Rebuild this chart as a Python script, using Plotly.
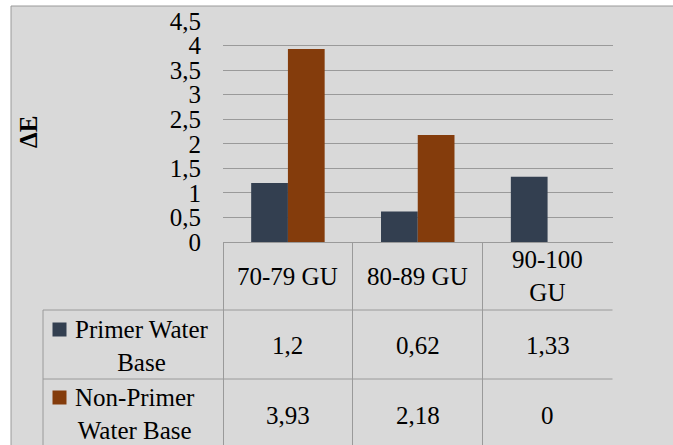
import plotly.graph_objects as go

categories = ["70-79 GU", "80-89 GU", "90-100 GU"]
category_labels = ["70-79 GU", "80-89 GU", "90-100<br>GU"]
primer_values = [1.2, 0.62, 1.33]
non_primer_values = [3.93, 2.18, 0.0]
series_names = ["Primer Water<br>Base", "Non-Primer<br>Water Base"]
series_colors = ["#333f50", "#843c0c"]
y_ticks = [0, 0.5, 1, 1.5, 2, 2.5, 3, 3.5, 4, 4.5]

W, H = 673, 445
FONT = "Liberation Serif"
GRAY = "#9a9a9a"

def px(x):
    return x / W

def py(y):
    return 1 - y / H

def fmt(v):
    s = f"{v:g}"
    return s.replace(".", ",")

fig = go.Figure()
for name, vals, col in zip(series_names, [primer_values, non_primer_values], series_colors):
    fig.add_trace(go.Bar(x=categories, y=vals, name=name.replace("<br>", " "),
                         marker=dict(color=col, line=dict(width=0)), showlegend=False))

shapes = []
# outer chart frame
shapes.append(dict(type="rect", xref="paper", yref="paper", x0=px(11), x1=1.02, y0=-0.02, y1=py(6),
                   fillcolor="#d9d9d9", line=dict(color=GRAY, width=1), layer="below"))
# table horizontal lines
for yy in [310, 379]:
    shapes.append(dict(type="line", xref="paper", yref="paper", x0=px(43), x1=px(612.5), y0=py(yy), y1=py(yy),
                       line=dict(color=GRAY, width=1)))
# legend column left border
shapes.append(dict(type="line", xref="paper", yref="paper", x0=px(43), x1=px(43), y0=py(310), y1=0,
                   line=dict(color=GRAY, width=1)))
# legend keys
for (cx, cy), col in zip([(59.5, 329.5), (59.5, 397.5)], series_colors):
    shapes.append(dict(type="rect", xref="paper", yref="paper", x0=px(cx - 7), x1=px(cx + 7),
                       y0=py(cy + 7), y1=py(cy - 7), fillcolor=col, line=dict(width=0)))

annotations = []
tf = dict(family=FONT, size=25, color="#000000")
# header row labels
for cat, lab in zip(categories, category_labels):
    annotations.append(dict(x=cat, xref="x", y=py(276), yref="paper", text=lab, showarrow=False,
                            font=tf, xanchor="center", yanchor="middle", align="center"))
# table values
for vals, yy in [(primer_values, 345), (non_primer_values, 415)]:
    for cat, v in zip(categories, vals):
        annotations.append(dict(x=cat, xref="x", y=py(yy), yref="paper", text=fmt(v), showarrow=False,
                                font=tf, xanchor="center", yanchor="middle"))
# legend texts
for name, (cx, cy) in zip(series_names, [(142, 346), (135, 414)]):
    annotations.append(dict(x=px(cx), xref="paper", y=py(cy), yref="paper", text=name, showarrow=False,
                            font=tf, xanchor="center", yanchor="middle", align="center"))
# y axis title
annotations.append(dict(x=px(28), xref="paper", y=py(132), yref="paper", text="<b>ΔE</b>", showarrow=False,
                        font=dict(family=FONT, size=25, color="#000000"), textangle=-90,
                        xanchor="center", yanchor="middle"))

fig.update_layout(
    width=W, height=H, autosize=False,
    margin=dict(l=0, r=0, t=0, b=0, autoexpand=False),
    paper_bgcolor="white", plot_bgcolor="white",
    separators=", ",
    barmode="group", bargap=0.434, bargroupgap=0,
    font=dict(family=FONT, size=25, color="#000000"),
    shapes=shapes, annotations=annotations,
    xaxis=dict(domain=[px(223), px(612.5)], type="category", tickson="boundaries",
               ticks="outside", ticklen=203, tickcolor=GRAY, tickwidth=1, automargin=False,
               showticklabels=False, showline=True, linecolor=GRAY, linewidth=1,
               showgrid=False, range=[-0.5, 2.5], fixedrange=True),
    yaxis=dict(domain=[py(242), py(21)], range=[0, 4.5], tickvals=y_ticks, automargin=False,
               showgrid=True, gridcolor=GRAY, gridwidth=1, zeroline=False, showline=False,
               ticks="", ticklabelstandoff=21, tickfont=dict(family=FONT, size=25, color="#000000")),
)

fig.write_html("out.html", config={"displayModeBar": False, "staticPlot": True},
               post_script="document.body.style.margin='0';")
